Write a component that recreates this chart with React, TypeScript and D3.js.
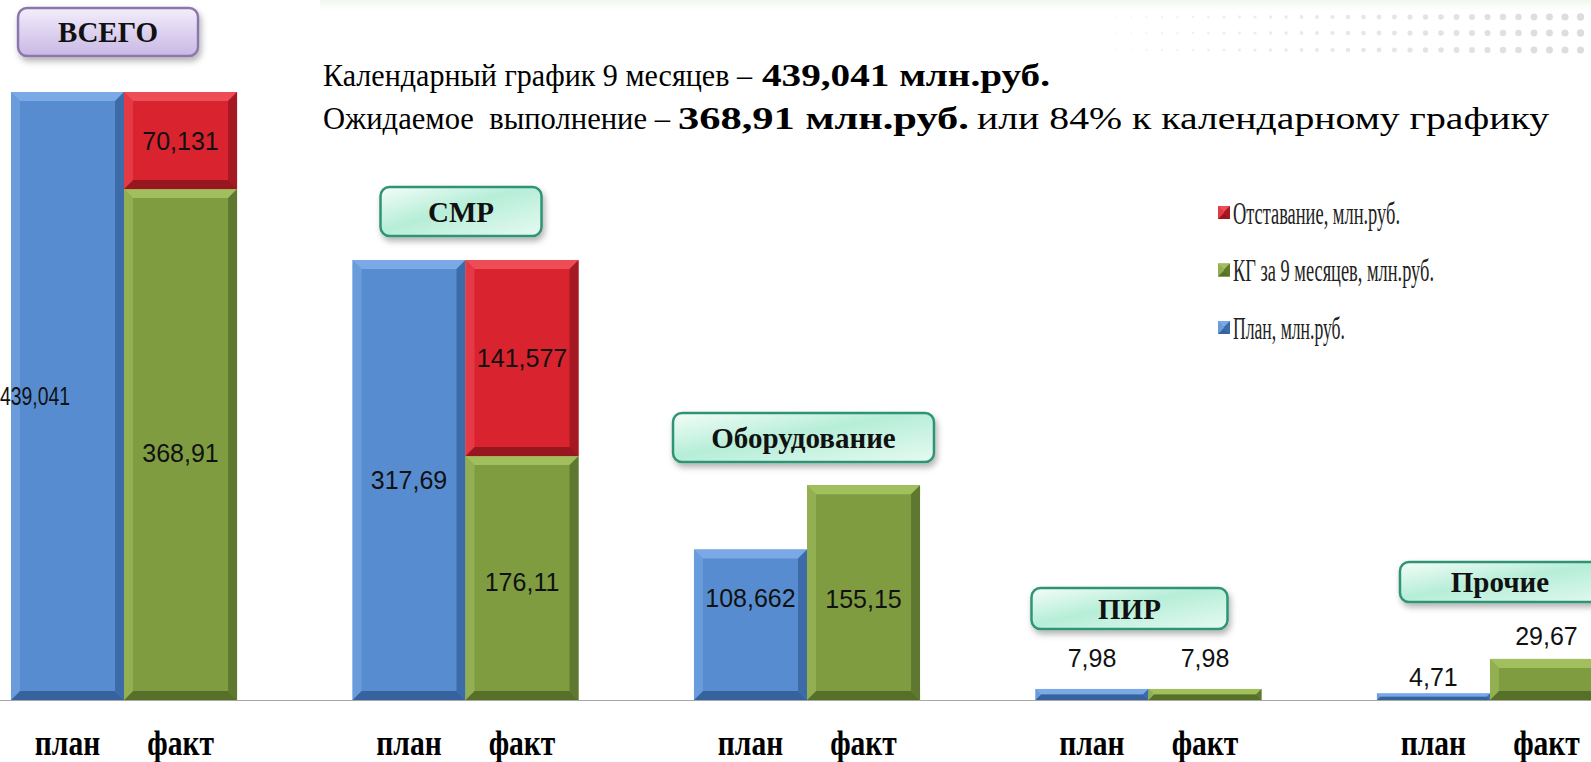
import React from 'react';
import * as d3 from 'd3';

const categories = ['ВСЕГО', 'СМР', 'Оборудование', 'ПИР', 'Прочие'];
const planValues = [439.041, 317.69, 108.662, 7.98, 4.71];
const factValues = [368.91, 176.11, 155.15, 7.98, 29.67];
const lagValues = [70.131, 141.577, 0, 0, 0];
const planLabels = ['439,041', '317,69', '108,662', '7,98', '4,71'];
const factLabels = ['368,91', '176,11', '155,15', '7,98', '29,67'];
const lagLabels = ['70,131', '141,577', '', '', ''];
const barNames = ['план', 'факт'];
const legendItems = ['Отставание, млн.руб.', 'КГ за 9 месяцев, млн.руб.', 'План, млн.руб.'];
const titleLine1 = ['Календарный график 9 месяцев –', '439,041 млн.руб.'];
const titleLine2 = ['Ожидаемое\u00a0 выполнение –', '368,91 млн.руб.', 'или 84% к календарному графику'];

const W = 1591;
const H = 762;

// layout (not data)
const badgeLayout: Record<string, { dx: number; w: number; h: number; top: number; kind: string }> = {
  'ВСЕГО': { dx: -106, w: 180, h: 48, top: 8, kind: 'purple' },
  'СМР': { dx: -85, w: 161, h: 49, top: 187, kind: 'green' },
  'Оборудование': { dx: -134, w: 261, h: 49, top: 413, kind: 'green' },
  'ПИР': { dx: -117, w: 196, h: 41, top: 588, kind: 'green' },
  'Прочие': { dx: -90, w: 230, h: 40, top: 562, kind: 'green' },
};
const labelNudge: Record<string, [number, number]> = {
  '108,662': [0, -27],
  '368,91': [0, 8],
  '155,15': [0, 6],
  '176,11': [0, 4],
  '7,98': [0, -7],
  '4,71': [0, 8],
  '29,67': [0, 1],
};
const legendWidths = [167, 201, 112];

const colors = {
  plan: { main: '#578dd0', light: '#7aa9e6', dark: '#36639e' },
  fact: { main: '#7f9c41', light: '#a2bf5e', dark: '#56702a' },
  lag: { main: '#d9232f', light: '#ee4c57', dark: '#971620' },
};

function Bevel({ x, y, w, h, c }: { x: number; y: number; w: number; h: number; c: any }) {
  const b = Math.max(0, Math.min(9, h / 2, w / 2));
  const pts = (a: number[][]) => a.map((p) => p.join(',')).join(' ');
  return (
    <g>
      <rect x={x} y={y} width={w} height={h} fill={c.main} />
      <polygon points={pts([[x, y], [x + w, y], [x + w - b, y + b], [x + b, y + b]])} fill={c.light} />
      <polygon points={pts([[x, y + h], [x + w, y + h], [x + w - b, y + h - b], [x + b, y + h - b]])} fill={c.dark} />
      <polygon points={pts([[x, y], [x + b, y + b], [x + b, y + h - b], [x, y + h]])} fill={c.light} opacity={0.55} />
      <polygon points={pts([[x + w, y], [x + w - b, y + b], [x + w - b, y + h - b], [x + w, y + h]])} fill={c.dark} opacity={0.8} />
    </g>
  );
}

export default function App() {
  const baseline = 700;
  const y = d3.scaleLinear().domain([0, 439.041]).range([baseline, 92]);
  const x = d3.scaleBand<string>().domain(categories).range([11, 1603]).paddingInner(0.338).paddingOuter(0);
  const inner = d3.scaleBand<string>().domain(barNames).range([0, x.bandwidth()]).padding(0);
  const bw = inner.bandwidth();

  const dotRows = [17, 33, 50];
  const dotCols = d3.range(1100, 1600, 15.5);

  const valueFont = "'Liberation Sans', Arial, sans-serif";
  const serif = "'Liberation Serif', 'Times New Roman', serif";

  const labels: { t: string; x: number; y: number; anchor?: string; len?: number }[] = [];

  return (
    <svg width={W} height={H} style={{ position: 'absolute', left: 0, top: 0, background: '#fff' }}>
      <defs>
        <linearGradient id="gGreen" x1="0" y1="0" x2="1" y2="1">
          <stop offset="0" stopColor="#f4fdf9" />
          <stop offset="0.45" stopColor="#b6eed8" />
          <stop offset="1" stopColor="#e6faf2" />
        </linearGradient>
        <linearGradient id="gPurple" x1="0" y1="0" x2="0" y2="1">
          <stop offset="0" stopColor="#f3effb" />
          <stop offset="0.5" stopColor="#ddd2f0" />
          <stop offset="1" stopColor="#c8b8e4" />
        </linearGradient>
        <linearGradient id="topBand" x1="0" y1="0" x2="0" y2="1">
          <stop offset="0" stopColor="#eef8ec" />
          <stop offset="1" stopColor="#ffffff" stopOpacity="0" />
        </linearGradient>
        <filter id="shadow" x="-20%" y="-30%" width="140%" height="180%">
          <feDropShadow dx="2" dy="4" stdDeviation="3" floodColor="#000" floodOpacity="0.3" />
        </filter>
      </defs>

      {/* decorative top band & dots */}
      <rect x={320} y={0} width={W - 320} height={14} fill="url(#topBand)" />
      {dotRows.map((ry, ri) =>
        dotCols.map((cx, ci) => {
          const t = (cx - 1100) / 500;
          const r = 0.6 + t * 3.2;
          return (
            <circle key={`d${ri}-${ci}`} cx={cx} cy={ry} r={Math.min(r, ry === 50 ? 3.5 : 4)} fill="#cfcfd2" opacity={0.25 + t * 0.5} />
          );
        })
      )}

      {/* title */}
      <g fontFamily={serif} fontSize={31} fill="#000">
        <text x={323} y={86} textLength={429} lengthAdjust="spacingAndGlyphs">{titleLine1[0]}</text>
        <text x={762} y={86} fontWeight="bold" textLength={288} lengthAdjust="spacingAndGlyphs">{titleLine1[1]}</text>
        <text x={323} y={129} textLength={347} lengthAdjust="spacingAndGlyphs">{titleLine2[0]}</text>
        <text x={678} y={129} fontWeight="bold" textLength={291} lengthAdjust="spacingAndGlyphs">{titleLine2[1]}</text>
        <text x={977} y={129} textLength={572} lengthAdjust="spacingAndGlyphs">{titleLine2[2]}</text>
      </g>

      {/* baseline */}
      <line x1={0} x2={W} y1={baseline + 0.5} y2={baseline + 0.5} stroke="#a6a6a6" strokeWidth={1} />

      {/* bars */}
      {categories.map((cat, i) => {
        const gx = x(cat)!;
        const px = gx + inner('план')!;
        const fx = gx + inner('факт')!;
        const pTop = y(planValues[i]);
        const fTop = y(factValues[i]);
        const lTop = y(factValues[i] + lagValues[i]);
        const pl: any = { t: planLabels[i], x: px + bw / 2, y: planValues[i] > 50 ? (pTop + baseline) / 2 : pTop - 24 };
        if (i === 0) {
          pl.x = 0;
          pl.anchor = 'start';
          pl.len = 70;
        }
        const fl = { t: factLabels[i], x: fx + bw / 2, y: factValues[i] > 50 ? (fTop + baseline) / 2 : fTop - 24 };
        const out = [pl, fl];
        if (lagValues[i] > 0) out.push({ t: lagLabels[i], x: fx + bw / 2, y: (lTop + fTop) / 2 });
        out.forEach((l) => {
          const n = labelNudge[l.t];
          labels.push(n ? { ...l, x: l.x + n[0], y: l.y + n[1] } : l);
        });
        return (
          <g key={cat}>
            <Bevel x={px} y={pTop} w={bw} h={baseline - pTop} c={colors.plan} />
            <Bevel x={fx} y={fTop} w={bw} h={baseline - fTop} c={colors.fact} />
            {lagValues[i] > 0 && <Bevel x={fx} y={lTop} w={bw} h={fTop - lTop} c={colors.lag} />}
            {barNames.map((bn) => (
              <text
                key={bn}
                transform={`translate(${gx + inner(bn)! + bw / 2},755) scale(0.82,1)`}
                textAnchor="middle"
                fontFamily={serif}
                fontWeight="bold"
                fontSize={36}
                fill="#000"
              >
                {bn}
              </text>
            ))}
          </g>
        );
      })}

      {labels.map((l, k) => (
        <text
          key={`l${k}`}
          x={l.x}
          y={l.y}
          dy="0.36em"
          textAnchor={l.anchor || 'middle'}
          fontFamily={valueFont}
          fontSize={25}
          fill="#111"
          {...(l.len ? { textLength: l.len, lengthAdjust: 'spacingAndGlyphs' } : {})}
        >
          {l.t}
        </text>
      ))}

      {/* badges */}
      {categories.map((cat) => {
        const b = badgeLayout[cat];
        const cx = x(cat)! + x.bandwidth() / 2;
        const bx = cx + b.dx;
        const purple = b.kind === 'purple';
        return (
          <g key={`b${cat}`}>
            <rect
              x={bx}
              y={b.top}
              width={b.w}
              height={b.h}
              rx={9}
              fill={purple ? 'url(#gPurple)' : 'url(#gGreen)'}
              stroke={purple ? '#8b76ad' : '#2f9474'}
              strokeWidth={2.5}
              filter="url(#shadow)"
            />
            <text
              x={bx + (cat === 'Прочие' ? 100 : b.w / 2)}
              y={b.top + b.h / 2}
              dy="0.35em"
              textAnchor="middle"
              fontFamily={serif}
              fontWeight="bold"
              fontSize={29}
              fill="#111"
            >
              {cat}
            </text>
          </g>
        );
      })}

      {/* legend */}
      {legendItems.map((it, k) => {
        const ly = 213 + k * 57.5;
        const c = [colors.lag, colors.fact, colors.plan][k];
        return (
          <g key={it}>
            <Bevel x={1218} y={ly - 7} w={12} h={13} c={c} />
            <text
              x={1233}
              y={ly}
              dy="0.35em"
              fontFamily={serif}
              fontSize={31}
              fill="#222"
              textLength={legendWidths[k]}
              lengthAdjust="spacingAndGlyphs"
            >
              {it}
            </text>
          </g>
        );
      })}
    </svg>
  );
}
